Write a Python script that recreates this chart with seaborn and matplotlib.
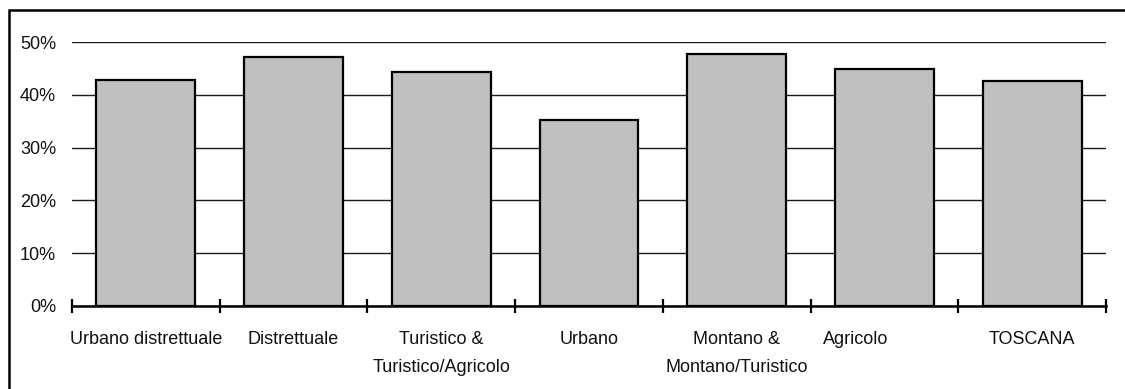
import matplotlib
matplotlib.use("Agg")
import matplotlib.pyplot as plt
import matplotlib.transforms as mtransforms
from matplotlib.patches import Rectangle
from matplotlib.ticker import FixedLocator, PercentFormatter
import seaborn as sns
import pandas as pd

categories = [
    "Urbano distrettuale",
    "Distrettuale",
    "Turistico &\nTuristico/Agricolo",
    "Urbano",
    "Montano &\nMontano/Turistico",
    "Agricolo",
    "TOSCANA",
]
values = [0.428, 0.473, 0.443, 0.352, 0.477, 0.449, 0.427]
y_ticks = [0.0, 0.1, 0.2, 0.3, 0.4, 0.5]

df = pd.DataFrame({"zona": categories, "quota": values})

sns.set_theme(style="white")
plt.rcParams["font.family"] = ["Liberation Sans", "DejaVu Sans"]

W, H, DPI = 1125, 389, 100
FS = 13
fig = plt.figure(figsize=(W / DPI, H / DPI), dpi=DPI)
fig.patch.set_facecolor("white")

x0, x1 = 72, 1106
y_top, y_bot = 42.3, 305.7
ax = fig.add_axes([x0 / W, 1 - y_bot / H, (x1 - x0) / W, (y_bot - y_top) / H])

sns.barplot(data=df, x="zona", y="quota", ax=ax, color="#c0c0c0",
            width=0.67, edgecolor="black", linewidth=1.6, saturation=1,
            zorder=3)

ax.set_xlim(-0.5, len(categories) - 0.5)
ax.set_ylim(0, 0.5)
ax.set_xlabel("")
ax.set_ylabel("")

# horizontal gridlines
ax.yaxis.set_major_locator(FixedLocator(y_ticks))
ax.yaxis.set_major_formatter(PercentFormatter(1.0, decimals=0))
ax.grid(axis="y", color="#1a1a1a", linewidth=1.0, zorder=0)
ax.grid(axis="x", visible=False)
ax.tick_params(axis="y", length=0, pad=11.5, labelsize=FS, labelcolor="#111111")

# x axis: tick marks between categories, labels centred on bars
n = len(categories)
ax.xaxis.set_major_locator(FixedLocator([i - 0.5 for i in range(n + 1)]))
ax.set_xticklabels([""] * (n + 1))
ax.set_xticks(list(range(n)), minor=True)
ax.set_xticklabels(categories, minor=True, linespacing=1.9)
ax.tick_params(axis="x", which="major", direction="inout", length=9.5,
               width=1.6, color="black", bottom=True)
ax.tick_params(axis="x", which="minor", length=0, pad=18, labelsize=FS,
               labelcolor="#111111")

# shift the "Agricolo" label slightly left
for lab in ax.get_xticklabels(minor=True):
    if lab.get_text() == "Agricolo":
        off = mtransforms.ScaledTranslation(-29 / DPI, 0, fig.dpi_scale_trans)
        lab.set_transform(lab.get_transform() + off)

for side in ("left", "right", "top"):
    ax.spines[side].set_visible(False)
ax.spines["bottom"].set_color("black")
ax.spines["bottom"].set_linewidth(1.8)
ax.spines["bottom"].set_zorder(4)

# outer frame around the chart
fig.patches.append(Rectangle((9 / W, -0.2), 1.2, 1.2 - 10 / H,
                             transform=fig.transFigure, fill=False,
                             edgecolor="black", linewidth=1.8, zorder=10))

fig.savefig("out.png", dpi=DPI, facecolor="white")
